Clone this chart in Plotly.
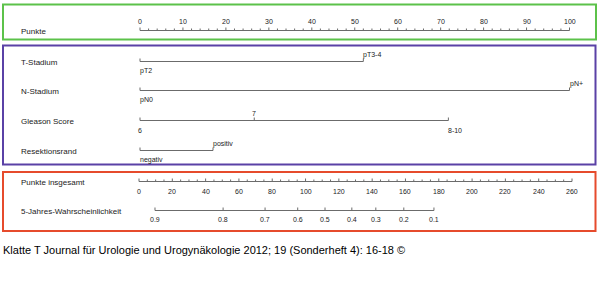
import plotly.graph_objects as go

# ---------------- data ----------------
punkte_major = [0, 10, 20, 30, 40, 50, 60, 70, 80, 90, 100]
punkte_minor = list(range(0, 101, 2))

t_stadium_labels = ["pT2", "pT3-4"]
t_stadium_points = [0, 52]
n_stadium_labels = ["pN0", "pN+"]
n_stadium_points = [0, 100]
gleason_labels = ["6", "7", "8-10"]
gleason_points = [0, 26.6, 71.8]
resektion_labels = ["negativ", "positiv"]
resektion_points = [0, 17]

total_major = list(range(0, 261, 20))
total_minor = list(range(0, 261, 5))

prob_labels = ["0.9", "0.8", "0.7", "0.6", "0.5", "0.4", "0.3", "0.2", "0.1"]
prob_total = [9.6, 50.5, 75.7, 95.3, 111.7, 127.8, 142.2, 159.0, 177.1]

row_names = ["Punkte", "T-Stadium", "N-Stadium", "Gleason Score", "Resektionsrand",
             "Punkte insgesamt", "5-Jahres-Wahrscheinlichkeit"]

caption = "Klatte T Journal für Urologie und Urogynäkologie 2012; 19 (Sonderheft 4): 16-18 ©"

# ---------------- layout constants ----------------
W, H = 600, 298
PX0, PXU = 140.0, 4.295      # Punkte scale: pixel of 0, pixels per point
TX0, TXU = 139.0, 1.6654     # total points scale
ROW_Y = [30.5, 61.5, 90.5, 120.5, 150.5, 181.5, 210.5]
LINE = "#6b6b6b"
TXT = "#222222"
FONT = "Liberation Sans, Arial, sans-serif"

fig = go.Figure()


def add_line(xs, y, xaxis="x"):
    fig.add_trace(go.Scatter(x=[min(xs), max(xs)], y=[y, y], mode="lines",
                             line=dict(color=LINE, width=1), xaxis=xaxis, yaxis="y",
                             hoverinfo="skip", showlegend=False))


def add_ticks(xs, y, h, xaxis="x"):
    X, Y = [], []
    for v in xs:
        X += [v, v, None]
        Y += [y, y - h, None]
    fig.add_trace(go.Scatter(x=X, y=Y, mode="lines", line=dict(color=LINE, width=1),
                             xaxis=xaxis, yaxis="y", hoverinfo="skip", showlegend=False))


annotations = []


def add_label(text, x, y, xref="x", xanchor="center", size=7):
    annotations.append(dict(text=text, x=x, y=y, xref=xref, yref="y", xanchor=xanchor,
                            yanchor="middle", showarrow=False,
                            font=dict(family=FONT, size=size, color=TXT)))


# Punkte axis
add_line(punkte_major, ROW_Y[0])
add_ticks([v for v in punkte_minor if v not in punkte_major], ROW_Y[0], 2)
add_ticks(punkte_major, ROW_Y[0], 3)
for v in punkte_major:
    add_label(str(v), v, ROW_Y[0] - 9.5)

# categorical predictor rows
rows = [
    (t_stadium_labels, t_stadium_points, ["below", "above"], ROW_Y[1]),
    (n_stadium_labels, n_stadium_points, ["below", "above"], ROW_Y[2]),
    (gleason_labels, gleason_points, ["below", "above", "below"], ROW_Y[3]),
    (resektion_labels, resektion_points, ["below", "above"], ROW_Y[4]),
]
for labels, pts, sides, y in rows:
    add_line(pts, y)
    add_ticks(pts, y, 3)
    for lab, p, s in zip(labels, pts, sides):
        dy = -7 if s == "above" else 9.5
        xa = "center" if len(lab) == 1 else "left"
        annotations.append(dict(text=lab, x=p, y=y + dy, xref="x", yref="y",
                                xanchor=xa, yanchor="middle", showarrow=False,
                                xshift=0 if xa == "center" else -2,
                                font=dict(family=FONT, size=7, color=TXT)))

# total points axis
add_line(total_major, ROW_Y[5], "x2")
add_ticks([v for v in total_minor if v not in total_major], ROW_Y[5], 2, "x2")
add_ticks(total_major, ROW_Y[5], 3, "x2")
for v in total_major:
    add_label(str(v), v, ROW_Y[5] + 9.5, xref="x2")

# probability axis
add_line(prob_total, ROW_Y[6], "x2")
add_ticks(prob_total, ROW_Y[6], 3, "x2")
for lab, v in zip(prob_labels, prob_total):
    add_label(lab, v, ROW_Y[6] + 8.5, xref="x2")

# row names
for name, y in zip(row_names, ROW_Y):
    annotations.append(dict(text=name, x=19 / W, y=y + 1, xref="paper", yref="y",
                            xanchor="left", yanchor="middle", showarrow=False,
                            font=dict(family=FONT, size=8, color=TXT)))

# caption
annotations.append(dict(text=caption, x=1 / W, y=249.5, xref="paper", yref="y",
                        xanchor="left", yanchor="middle", showarrow=False,
                        font=dict(family=FONT, size=11, color="#000000")))

# frames
boxes = [((3, 4.5, 596, 39.5), "#5cc24a"),
         ((3, 45.5, 595.5, 164.5), "#5a41a6"),
         ((3, 172, 595.5, 231), "#e64b2c")]
shapes = []
for (x0, y0, x1, y1), col in boxes:
    shapes.append(dict(type="rect", xref="paper", yref="y", x0=x0 / W, x1=x1 / W,
                       y0=y0, y1=y1, line=dict(color=col, width=2),
                       fillcolor="rgba(0,0,0,0)"))

fig.update_layout(
    width=W, height=H, margin=dict(l=0, r=0, t=0, b=0),
    paper_bgcolor="white", plot_bgcolor="white", showlegend=False,
    xaxis=dict(range=[-PX0 / PXU, (W - PX0) / PXU], visible=False, fixedrange=True),
    xaxis2=dict(range=[-TX0 / TXU, (W - TX0) / TXU], visible=False, fixedrange=True,
                overlaying="x"),
    yaxis=dict(range=[H, 0], visible=False, fixedrange=True),
    annotations=annotations, shapes=shapes,
)

fig.write_html("out.html")
